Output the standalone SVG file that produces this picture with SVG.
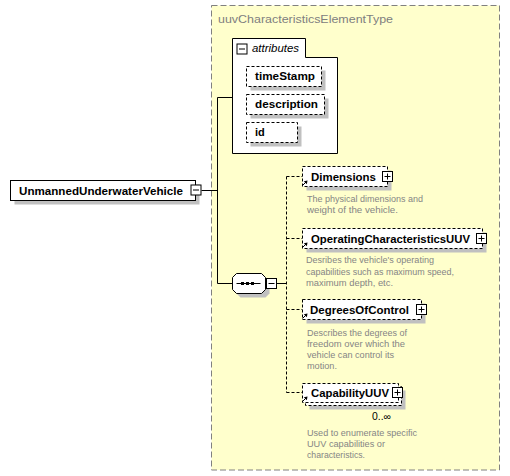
<svg xmlns="http://www.w3.org/2000/svg" width="510" height="476" viewBox="0 0 510 476">
<style>
.lbl{font-family:"Liberation Sans",Arial,sans-serif;font-size:11px;font-weight:bold;fill:#000}
.desc{font-family:"Liberation Sans",Arial,sans-serif;font-size:9.5px;fill:#858585}
.title{font-family:"Liberation Sans",Arial,sans-serif;font-size:11.5px;fill:#808080}
.ital{font-family:"Liberation Sans",Arial,sans-serif;font-size:11px;font-style:italic;fill:#000}
.occ{font-family:"Liberation Sans",Arial,sans-serif;font-size:10px;fill:#000}
.shadow{fill:#c0c0c0;stroke:none}
.dbox{fill:#fff;stroke:#000;stroke-width:1;stroke-dasharray:3,2}
.sbox{fill:#fff;stroke:#000;stroke-width:1}
.line{fill:none;stroke:#000;stroke-width:1}
.dline{fill:none;stroke:#000;stroke-width:1;stroke-dasharray:3,2}
</style>
<defs>
<g id="plus"><rect x="0.5" y="0.5" width="10" height="10" class="sbox"/><path d="M2.5,5.5 H8.5 M5.5,2.5 V8.5" class="line"/></g>
<g id="minus"><rect x="0.5" y="0.5" width="10" height="10" class="sbox"/><path d="M2.5,5.5 H8.5" class="line"/></g>
<g id="ref"><path d="M0.5,5.5 L4,2" class="line"/><path d="M5.5,0.5 L1.8,1.2 L4.8,4.2 Z" fill="#000"/></g>
</defs>

<g id="type-box">
<rect x="211.5" y="5.5" width="288" height="464.5" fill="#ffffcc" stroke="#808080" stroke-width="1" stroke-dasharray="6,3"/>
<text class="title" x="218" y="23" textLength="175" lengthAdjust="spacingAndGlyphs">uuvCharacteristicsElementType</text>
</g>

<g id="connectors">
<path d="M201.5,190.5 H217.5 M217.5,97.5 V283.5 M217.5,97.5 H232.5 M217.5,283.5 H232.5" class="line"/>
<path d="M276.5,283.5 H286.5" class="line"/>
<path d="M286.5,176.5 V392.5 M286.5,176.5 H302.5 M286.5,238.5 H302.5 M286.5,309.5 H302.5 M286.5,392.5 H302.5" class="dline"/>
</g>

<g id="attributes">
<path d="M232.5,153.5 V38.5 H305.5 V57.5 H337.5 V153.5 Z" class="sbox"/>
<use href="#minus" x="236.5" y="43.5"/>
<text class="ital" x="252" y="52" textLength="47" lengthAdjust="spacingAndGlyphs">attributes</text>
</g>

<g id="attr-timeStamp">
<rect x="250.5" y="70.5" width="75" height="20" class="shadow"/>
<rect x="246.5" y="66.5" width="75" height="20" class="dbox"/>
<text class="lbl" x="255" y="80" textLength="60" lengthAdjust="spacingAndGlyphs">timeStamp</text>
</g>
<g id="attr-description">
<rect x="250.5" y="98.5" width="78" height="20" class="shadow"/>
<rect x="246.5" y="94.5" width="78" height="20" class="dbox"/>
<text class="lbl" x="255" y="108" textLength="63" lengthAdjust="spacingAndGlyphs">description</text>
</g>
<g id="attr-id">
<rect x="250.5" y="126.5" width="51" height="20" class="shadow"/>
<rect x="246.5" y="122.5" width="51" height="20" class="dbox"/>
<text class="lbl" x="255" y="136">id</text>
</g>

<g id="UnmannedUnderwaterVehicle">
<rect x="14.5" y="184.5" width="185" height="20" class="shadow"/>
<rect x="10.5" y="180.5" width="185" height="20" class="sbox"/>
<text class="lbl" x="19" y="194.5" textLength="164" lengthAdjust="spacingAndGlyphs">UnmannedUnderwaterVehicle</text>
<use href="#minus" x="190.5" y="184.5"/>
</g>

<g id="sequence">
<path d="M240.5,277.5 H265.5 L269.5,281.5 V293.5 L265.5,297.5 H240.5 L236.5,293.5 V281.5 Z" class="shadow"/>
<path d="M236.5,273.5 H261.5 L265.5,277.5 V289.5 L261.5,293.5 H236.5 L232.5,289.5 V277.5 Z" class="sbox"/>
<path d="M236.5,283.5 H260.5" class="line"/>
<rect x="241" y="282" width="3" height="3" fill="#000"/>
<rect x="246" y="282" width="3" height="3" fill="#000"/>
<rect x="251" y="282" width="3" height="3" fill="#000"/>
<use href="#minus" x="266" y="278"/>
</g>

<g id="Dimensions">
<rect x="306.5" y="170.5" width="85" height="20" class="shadow"/>
<rect x="302.5" y="166.5" width="85" height="20" class="dbox"/>
<text class="lbl" x="311" y="180.5" textLength="65" lengthAdjust="spacingAndGlyphs">Dimensions</text>
<use href="#plus" x="382" y="171"/>
<use href="#ref" x="302" y="180"/>
<text class="desc" x="307" y="202" textLength="116" lengthAdjust="spacingAndGlyphs">The physical dimensions and</text>
<text class="desc" x="307" y="213" textLength="91" lengthAdjust="spacingAndGlyphs">weight of the vehicle.</text>
</g>

<g id="OperatingCharacteristicsUUV">
<rect x="306.5" y="232.5" width="180" height="20" class="shadow"/>
<rect x="302.5" y="228.5" width="180" height="20" class="dbox"/>
<text class="lbl" x="311" y="242.5" textLength="159" lengthAdjust="spacingAndGlyphs">OperatingCharacteristicsUUV</text>
<use href="#plus" x="476" y="233"/>
<use href="#ref" x="302" y="242"/>
<text class="desc" x="306" y="263" textLength="128" lengthAdjust="spacingAndGlyphs">Desribes the vehicle's operating</text>
<text class="desc" x="306" y="274.5" textLength="148" lengthAdjust="spacingAndGlyphs">capabilities such as maximum speed,</text>
<text class="desc" x="306" y="286" textLength="87" lengthAdjust="spacingAndGlyphs">maximum depth, etc.</text>
</g>

<g id="DegreesOfControl">
<rect x="306.5" y="303.5" width="119" height="20" class="shadow"/>
<rect x="302.5" y="299.5" width="119" height="20" class="dbox"/>
<text class="lbl" x="310" y="313.5" textLength="99" lengthAdjust="spacingAndGlyphs">DegreesOfControl</text>
<use href="#plus" x="416" y="304"/>
<use href="#ref" x="302" y="313"/>
<text class="desc" x="307" y="335.5" textLength="100" lengthAdjust="spacingAndGlyphs">Describes the degrees of</text>
<text class="desc" x="307" y="346.5" textLength="98" lengthAdjust="spacingAndGlyphs">freedom over which the</text>
<text class="desc" x="307" y="357.5" textLength="87" lengthAdjust="spacingAndGlyphs">vehicle can control its</text>
<text class="desc" x="307" y="368.5" textLength="30" lengthAdjust="spacingAndGlyphs">motion.</text>
</g>

<g id="CapabilityUUV">
<rect x="309.5" y="390.5" width="96" height="19" class="shadow"/>
<rect x="305.5" y="386.5" width="96" height="19" class="dbox"/>
<rect x="302.5" y="383.5" width="96" height="19" class="dbox"/>
<text class="lbl" x="311" y="397" textLength="78" lengthAdjust="spacingAndGlyphs">CapabilityUUV</text>
<use href="#plus" x="392" y="387"/>
<use href="#ref" x="302" y="396"/>
<text class="occ" x="372" y="420" textLength="19" lengthAdjust="spacingAndGlyphs">0..∞</text>
<text class="desc" x="307" y="435.5" textLength="110" lengthAdjust="spacingAndGlyphs">Used to enumerate specific</text>
<text class="desc" x="307" y="446.5" textLength="78" lengthAdjust="spacingAndGlyphs">UUV capabilities or</text>
<text class="desc" x="307" y="457.5" textLength="58" lengthAdjust="spacingAndGlyphs">characteristics.</text>
</g>
</svg>
